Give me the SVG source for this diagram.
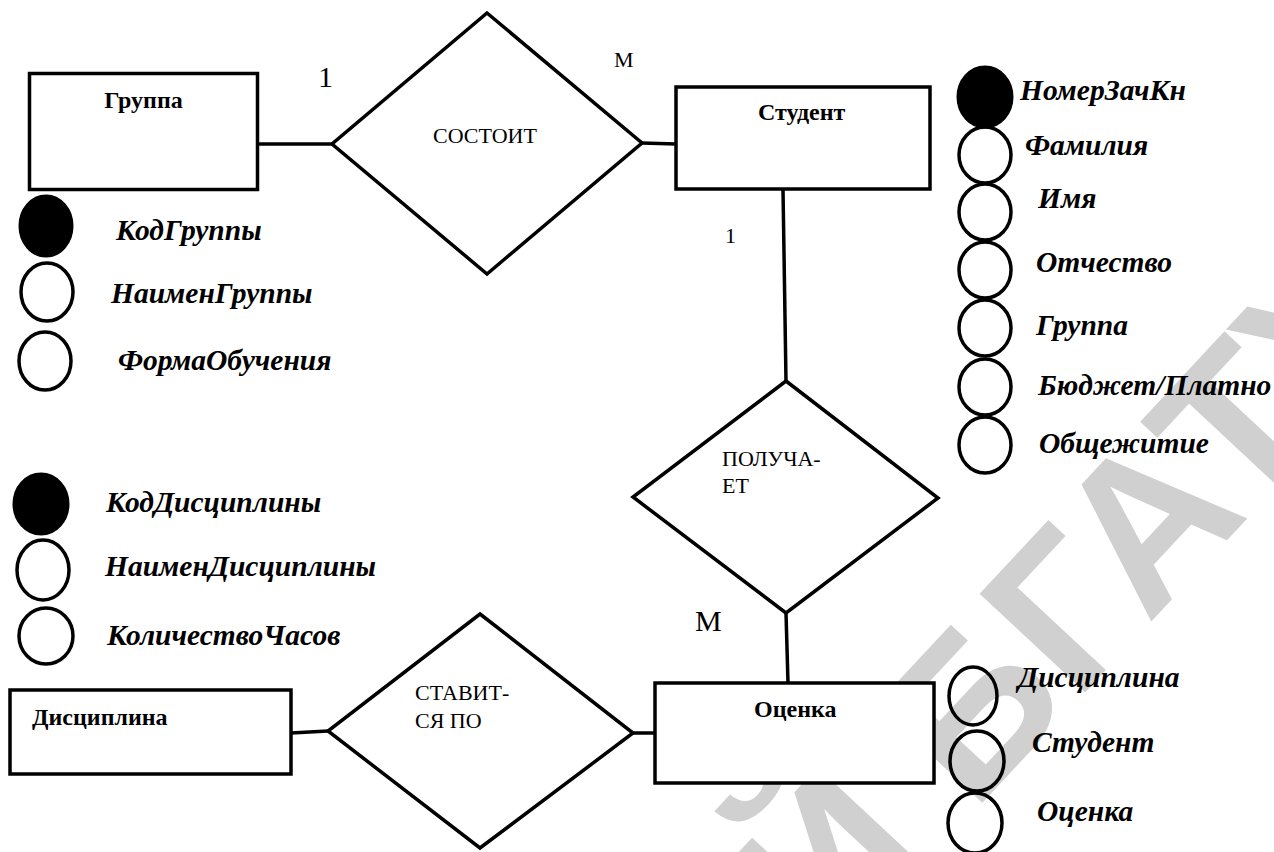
<svg xmlns="http://www.w3.org/2000/svg" width="1274" height="852" viewBox="0 0 1274 852">
<style>
.bg{fill:#ffffff}
.wm{fill:#d0d0d0;font-family:"Liberation Sans",Arial,sans-serif;font-weight:bold;font-size:210px}
.ent{fill:#ffffff;stroke:#000;stroke-width:3.5}
.rel{fill:#ffffff;stroke:#000;stroke-width:3.5}
.conn line{stroke:#000;stroke-width:3.5}
.key{fill:#000;stroke:#000;stroke-width:3}
.att{fill:none;stroke:#000;stroke-width:3.5}
.et{font-family:"Liberation Serif","Times New Roman",serif;font-weight:bold;font-size:24px;fill:#000}
.rt{font-family:"Liberation Serif","Times New Roman",serif;font-size:22px;fill:#000}
.at{font-family:"Liberation Serif","Times New Roman",serif;font-weight:bold;font-style:italic;font-size:29.5px;fill:#000}
.card{font-family:"Liberation Serif","Times New Roman",serif;fill:#000}
</style>
<rect class="bg" x="0" y="0" width="1274" height="852"/>
<text class="wm" transform="translate(830,966) rotate(-47)">Й БГАТУ</text>

<g id="connectors" class="conn">
<line x1="258" y1="144" x2="332" y2="144"/>
<line x1="642" y1="143" x2="676" y2="144"/>
<line x1="783" y1="189" x2="786" y2="381"/>
<line x1="786" y1="613" x2="788" y2="683"/>
<line x1="633" y1="733" x2="655" y2="733"/>
<line x1="291" y1="733" x2="328" y2="731"/>
</g>

<g id="group">
<rect class="ent" x="29.5" y="73.5" width="228" height="116"/>
<text class="et" x="143.5" y="108" text-anchor="middle">Группа</text>
</g>
<g id="student">
<rect class="ent" x="676" y="87" width="254" height="102"/>
<text class="et" x="758" y="120">Студент</text>
</g>
<g id="grade">
<rect class="ent" x="655" y="683" width="279" height="100"/>
<text class="et" x="754" y="717">Оценка</text>
</g>
<g id="discipline">
<rect class="ent" x="10" y="690" width="281" height="84"/>
<text class="et" x="32" y="725">Дисциплина</text>
</g>

<g id="rel-consists">
<polygon class="rel" points="487,13 642,143 487,274 332,144"/>
<text class="rt" x="433" y="143">СОСТОИТ</text>
</g>
<g id="rel-receives">
<polygon class="rel" points="786,381 938,498 786,613 633,497"/>
<text class="rt" x="722" y="466">ПОЛУЧА-</text>
<text class="rt" x="722" y="493">ЕТ</text>
</g>
<g id="rel-given">
<polygon class="rel" points="480,614 633,733 480,848 328,731"/>
<text class="rt" x="415" y="700">СТАВИТ-</text>
<text class="rt" x="415" y="728">СЯ ПО</text>
</g>

<g id="cardinalities">
<text class="card" x="318" y="87" font-size="30">1</text>
<text class="card" x="614" y="67" font-size="22">М</text>
<text class="card" x="725" y="243" font-size="22">1</text>
<text class="card" x="695" y="631" font-size="30">М</text>
</g>

<g id="group-attrs">
<ellipse class="key" cx="46" cy="226" rx="26" ry="30"/>
<text class="at" x="116" y="240">КодГруппы</text>
<ellipse class="att" cx="47" cy="292" rx="26" ry="29"/>
<text class="at" x="111" y="303">НаименГруппы</text>
<ellipse class="att" cx="45" cy="361" rx="26" ry="29"/>
<text class="at" x="118" y="370">ФормаОбучения</text>
</g>

<g id="discipline-attrs">
<ellipse class="key" cx="41" cy="504" rx="27" ry="30"/>
<text class="at" x="106" y="512">КодДисциплины</text>
<ellipse class="att" cx="43" cy="570" rx="26" ry="30"/>
<text class="at" x="105" y="576">НаименДисциплины</text>
<ellipse class="att" cx="46" cy="636" rx="27" ry="28"/>
<text class="at" x="107" y="645">КоличествоЧасов</text>
</g>

<g id="student-attrs">
<ellipse class="key" cx="985" cy="97" rx="27" ry="30"/>
<text class="at" x="1020" y="100">НомерЗачКн</text>
<ellipse class="att" cx="985" cy="155" rx="26" ry="28"/>
<text class="at" x="1025" y="155">Фамилия</text>
<ellipse class="att" cx="985" cy="212" rx="26" ry="28"/>
<text class="at" x="1038" y="208">Имя</text>
<ellipse class="att" cx="985" cy="270" rx="26" ry="28"/>
<text class="at" x="1036" y="272">Отчество</text>
<ellipse class="att" cx="985" cy="328" rx="26" ry="28"/>
<text class="at" x="1036" y="335">Группа</text>
<ellipse class="att" cx="985" cy="387" rx="26" ry="28"/>
<text class="at" x="1038" y="395">Бюджет/Платно</text>
<ellipse class="att" cx="985" cy="445" rx="26" ry="28"/>
<text class="at" x="1039" y="453">Общежитие</text>
</g>

<g id="grade-attrs">
<ellipse class="att" cx="973" cy="696" rx="24" ry="29"/>
<text class="at" x="1018" y="687">Дисциплина</text>
<ellipse class="att" cx="977" cy="761" rx="27" ry="30"/>
<text class="at" x="1032" y="752">Студент</text>
<ellipse class="att" cx="975" cy="823" rx="27" ry="30"/>
<text class="at" x="1037" y="821">Оценка</text>
</g>
</svg>
